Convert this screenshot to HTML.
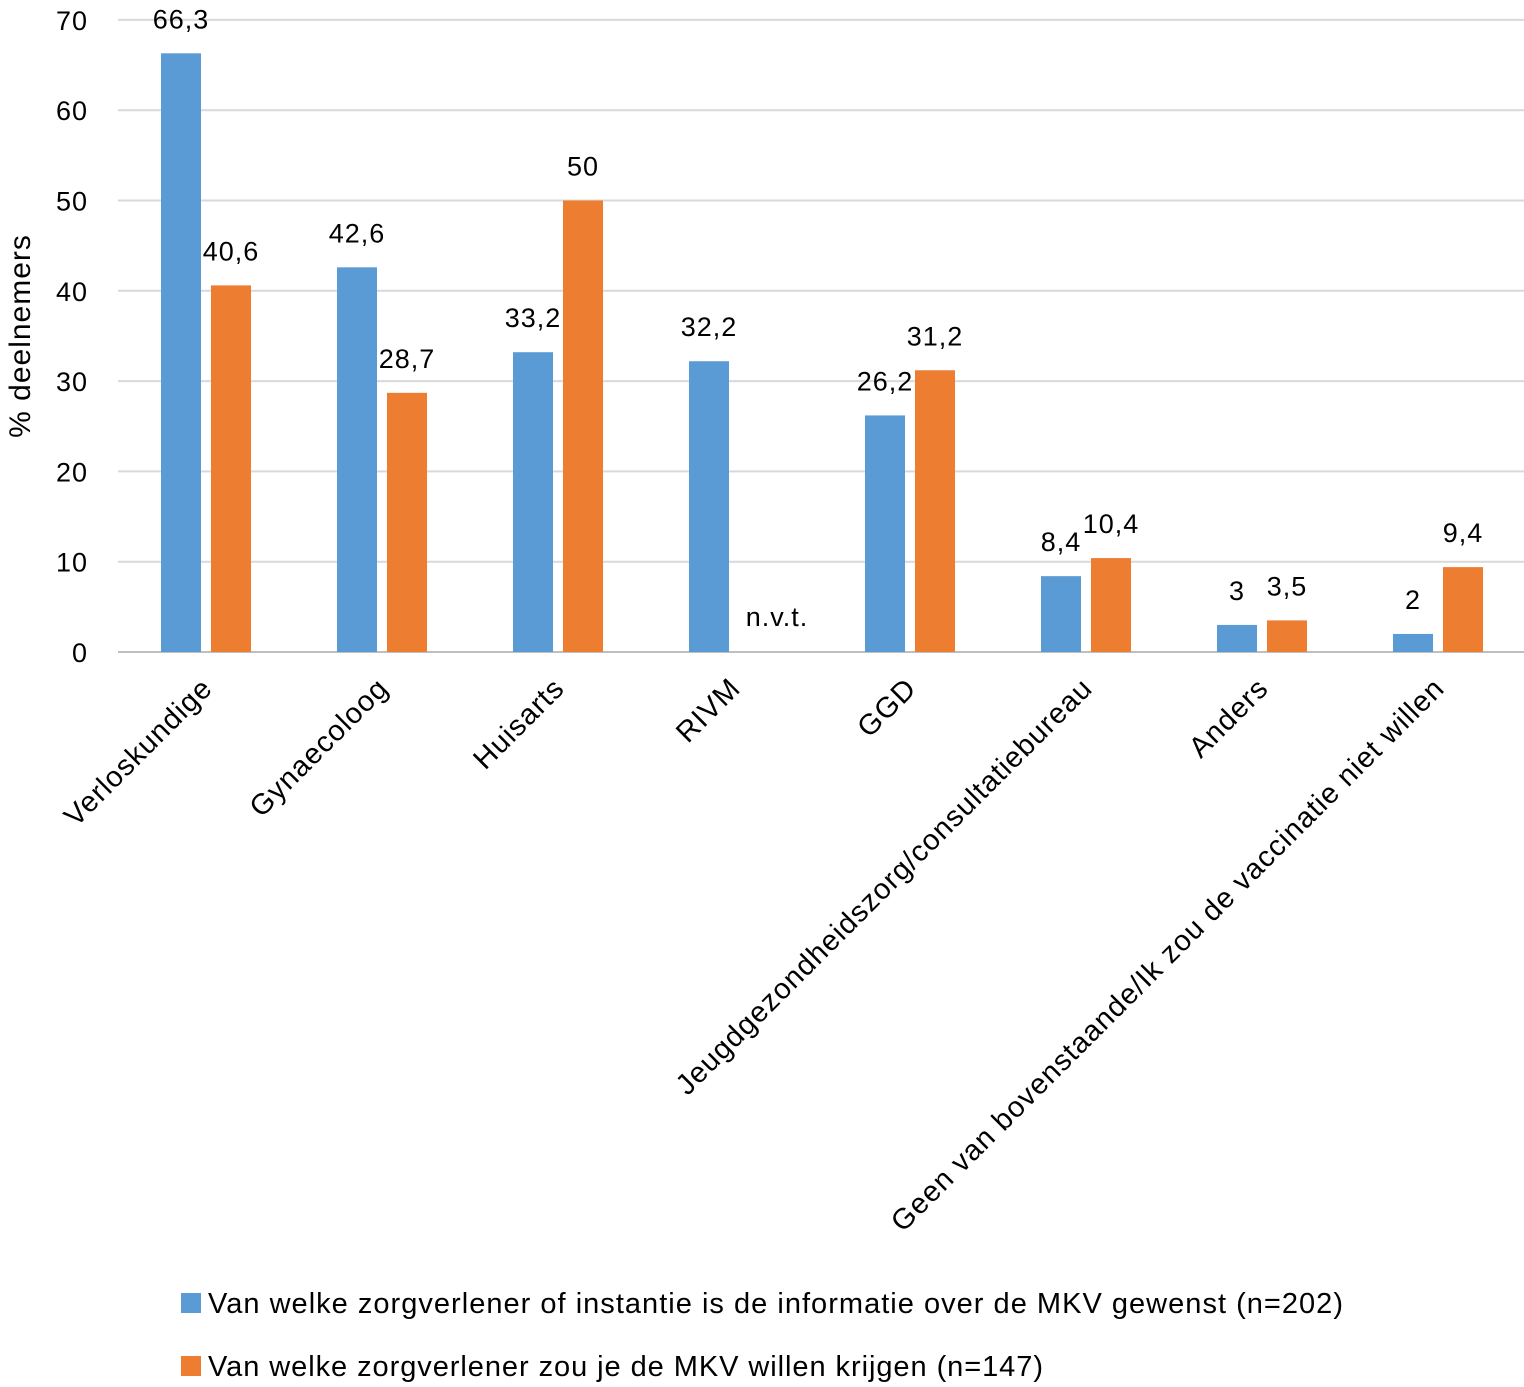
<!DOCTYPE html>
<html><head><meta charset="utf-8"><style>
html,body{margin:0;padding:0;background:#fff;}
svg{display:block;font-family:"Liberation Sans",sans-serif;}
</style></head><body>
<svg id="chart" width="1524" height="1387">
<g id="grid"></g><g id="bars"></g><g id="labels"></g><g id="cats"></g><g id="yticks"></g>
<text transform="translate(30,336) rotate(-90)" text-anchor="middle" font-size="30" letter-spacing="1" fill="#000">% deelnemers</text>
<g>
<rect x="181" y="1293" width="20" height="20" fill="#5b9bd5"/>
<text x="208" y="1313" font-size="29" textLength="1135" lengthAdjust="spacing" fill="#000">Van welke zorgverlener of instantie is de informatie over de MKV gewenst (n=202)</text>
<rect x="181" y="1356" width="20" height="20" fill="#ed7d31"/>
<text x="208" y="1376" font-size="29" textLength="835" lengthAdjust="spacing" fill="#000">Van welke zorgverlener zou je de MKV willen krijgen (n=147)</text>
</g>
</svg>
<script>
const categories=["Verloskundige","Gynaecoloog","Huisarts","RIVM","GGD","Jeugdgezondheidszorg/consultatiebureau","Anders","Geen van bovenstaande/Ik zou de vaccinatie niet willen"];
const infoValues=[66.3,42.6,33.2,32.2,26.2,8.4,3,2];
const vaccineValues=[40.6,28.7,50,null,31.2,10.4,3.5,9.4];
const yTicks=[0,10,20,30,40,50,60,70];
const NS="http://www.w3.org/2000/svg";
const x0=118,step=176,y0=652,pxPer=9.03;
const y=v=>y0-v*pxPer;
const cx=i=>x0+step*i+88;
const fmt=v=>String(v).replace('.',',');
function mk(tag,attrs,parent,txt){const e=document.createElementNS(NS,tag);for(const k in attrs)e.setAttribute(k,attrs[k]);if(txt!=null)e.textContent=txt;document.getElementById(parent).appendChild(e);return e;}
yTicks.forEach(t=>{
 const l=mk('line',{x1:x0,x2:1524,y1:y(t),y2:y(t),stroke:t===0?'#bfbfbf':'#d9d9d9','stroke-width':2},'grid');
 
 
 const tx=mk('text',{x:88,y:y(t)+10,'text-anchor':'end','font-size':27,'letter-spacing':1},'yticks',String(t));
 
 
});
categories.forEach((c,i)=>{
 const b=mk('rect',{x:cx(i)-45,y:y(infoValues[i]),width:40,height:infoValues[i]*pxPer,fill:'#5b9bd5'},'bars');
 
 
 const lb=mk('text',{x:cx(i)-25,y:y(infoValues[i])-25,'text-anchor':'middle','font-size':27,'letter-spacing':1},'labels',fmt(infoValues[i]));
 
 
 const v=vaccineValues[i];
 if(v!=null){
  const o=mk('rect',{x:cx(i)+5,y:y(v),width:40,height:v*pxPer,fill:'#ed7d31'},'bars');
  
  
 }
 const ol=mk('text',{x:cx(i)+25,y:v!=null?y(v)-25:y0-26,'text-anchor':'middle','font-size':27,'letter-spacing':1},'labels',v!=null?fmt(v):'n.v.t.');
 if(v==null)ol.setAttribute('x',cx(i)+43);
 
 
 const ct=mk('text',{transform:`translate(${cx(i)+8},690) rotate(-45)`,'text-anchor':'end','font-size':29,'letter-spacing':1},'cats',c);
 
 
});
</script>
</body></html>
